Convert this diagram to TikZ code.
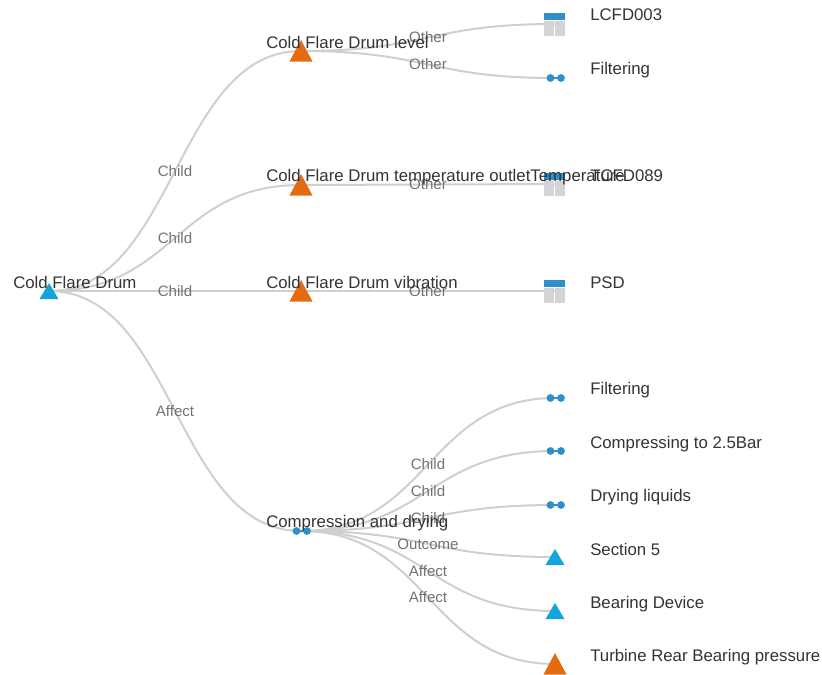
\documentclass[tikz,border=0pt]{standalone}
\usepackage{fontspec}
\setmainfont{Liberation Sans}
\usetikzlibrary{calc}
\definecolor{linkgray}{HTML}{CFCFCF}
\definecolor{iconblue}{HTML}{2E8FC9}
\definecolor{tricyan}{HTML}{13A5DC}
\definecolor{triorange}{HTML}{E36C12}
\def\linkcurve[#1](#2)(#3)#4% Syntax: [name] (from) (to) label
{ \path ($(#2)!.5!(#3)$) coordinate (m#1);
  \draw[linkline] (#2) .. controls (m#1 |- #2) and (m#1 |- #3) .. (#3);
  \path (m#1) node[linklabel] (l#1) {#4}; }
\tikzset{
	linkline/.style={draw=linkgray,line width=1.5},
	linklabel/.style={text=black!55,font=\fontsize{11.3}{14}\selectfont,inner sep=0pt},
	itemlabel/.style={text=black!80,font=\fontsize{12.6}{14}\selectfont,inner sep=0pt,anchor=west},
	tri/.pic={
		\fill[pic actions] (-9.5,8) -- (0,-8) -- (9.5,8) -- cycle;
	},
	bigtri/.pic={
		\fill[pic actions] (-11.5,10.5) -- (0,-11) -- (11.5,10.5) -- cycle;
	},
	dumbbell/.pic={
		\fill[iconblue] (-4.5,0) circle (3.9);
		\fill[iconblue] (6,0) circle (3.9);
		\draw[iconblue,line width=1] (-4.5,0) -- (6,0);
	},
	tablepic/.pic={
		\fill[iconblue] (-11,-11) rectangle (10,-4.5);
		\fill[black!17] (-11,-3.5) rectangle (-1,12);
		\fill[black!17] (.4,-3.5) rectangle (10,12);
	},
}
\begin{document}
\begin{tikzpicture}[x=0.75pt,y=-0.75pt]
		\useasboundingbox (0,0) rectangle (822,675);
		\coordinate (drum) at (49,291);
		\coordinate (level) at (301,51);
		\coordinate (temp) at (301,185);
		\coordinate (vib) at (301,291);
		\coordinate (comp) at (301,531);
		\coordinate (lcfd) at (555,24);
		\coordinate (filt) at (555,78);
		\coordinate (tcfd) at (555,184);
		\coordinate (psd) at (555,291);
		\coordinate (filtb) at (555,398);
		\coordinate (press) at (555,451);
		\coordinate (dry) at (555,505);
		\coordinate (sect) at (555,557);
		\coordinate (bear) at (555,611);
		\coordinate (turb) at (555,664);
		\linkcurve[a](drum)(level){Child};
		\linkcurve[b](drum)(temp){Child};
		\linkcurve[c](drum)(vib){Child};
		\linkcurve[d](drum)(comp){Affect};
		\linkcurve[e](level)(lcfd){Other};
		\linkcurve[f](level)(filt){Other};
		\linkcurve[g](temp)(tcfd){Other};
		\linkcurve[h](vib)(psd){Other};
		\linkcurve[i](comp)(filtb){Child};
		\linkcurve[j](comp)(press){Child};
		\linkcurve[k](comp)(dry){Child};
		\linkcurve[n](comp)(sect){Outcome};
		\linkcurve[o](comp)(bear){Affect};
		\linkcurve[p](comp)(turb){Affect};
		% icons
		\path (drum) pic[fill=tricyan] {tri};
		\path (level) pic[fill=triorange] {bigtri};
		\path (temp) pic[fill=triorange] {bigtri};
		\path (vib) pic[fill=triorange] {bigtri};
		\path (comp) pic {dumbbell};
		\path (lcfd) pic {tablepic};
		\path (filt) pic {dumbbell};
		\path (tcfd) pic {tablepic};
		\path (psd) pic {tablepic};
		\path (filtb) pic {dumbbell};
		\path (press) pic {dumbbell};
		\path (dry) pic {dumbbell};
		\path (sect) pic[fill=tricyan] {tri};
		\path (bear) pic[fill=tricyan] {tri};
		\path (turb) pic[fill=triorange] {bigtri};
		% labels
		\node[itemlabel] (tdrum) at ($(drum)+(-36,-9)$) {Cold Flare Drum};
		\node[itemlabel] (tlevel) at ($(level)+(-35,-9)$) {Cold Flare Drum level};
		\node[itemlabel] (ttemp) at ($(temp)+(-35,-8)$) {Cold Flare Drum temperature outletTemperature};
		\node[itemlabel] (tvib) at ($(vib)+(-35,-9)$) {Cold Flare Drum vibration};
		\node[itemlabel] (tcomp) at ($(comp)+(-35,-7.5)$) {Compression and drying};
		\node[itemlabel] (tlcfd) at ($(lcfd)+(35,-9)$) {LCFD003};
		\node[itemlabel] (tfilt) at ($(filt)+(35,-7.5)$) {Filtering};
		\node[itemlabel] (ttcfd) at ($(tcfd)+(35,-8)$) {TCFD089};
		\node[itemlabel] (tpsd) at ($(psd)+(35,-8)$) {PSD};
		\node[itemlabel] (tfiltb) at ($(filtb)+(35,-8)$) {Filtering};
		\node[itemlabel] (tpress) at ($(press)+(35,-7)$) {Compressing to 2.5Bar};
		\node[itemlabel] (tdry) at ($(dry)+(35,-7.5)$) {Drying liquids};
		\node[itemlabel] (tsect) at ($(sect)+(35,-7.5)$) {Section 5};
		\node[itemlabel] (tbear) at ($(bear)+(35,-7)$) {Bearing Device};
		\node[itemlabel] (tturb) at ($(turb)+(35,-7)$) {Turbine Rear Bearing pressure};
	\end{tikzpicture}
\end{document}
